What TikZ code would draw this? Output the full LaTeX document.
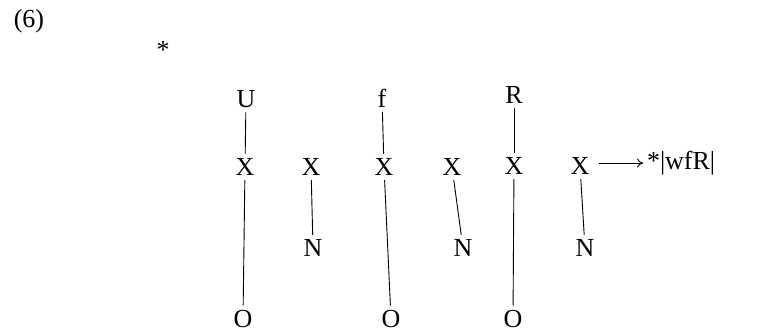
\documentclass[tikz,border=0pt]{standalone}
\usepackage{fontspec}
\setmainfont{Liberation Serif}
\usetikzlibrary{arrows.meta}
\begin{document}
\begin{tikzpicture}[x=1pt,y=-1pt,
  lab/.style={inner sep=0pt,outer sep=5pt,font=\fontsize{26}{30}\selectfont},
  edge/.style={line width=0.9pt,line cap=round}]
\useasboundingbox (0,0) rectangle (757,335);
\node[lab] (num) at (29,21) {(6)};
\node[lab] (star) at (163,50) {*};
% top row
\node[lab] (U) at (246,99) {U};
\node[lab] (f) at (382,98) {f};
\node[lab] (R) at (514,95) {R};
% X row
\node[lab] (X1) at (245,167) {X};
\node[lab] (X2) at (311,167) {X};
\node[lab] (X3) at (384,167) {X};
\node[lab] (X4) at (452,167) {X};
\node[lab] (X5) at (514,166) {X};
\node[lab] (X6) at (580,166) {X};
% N row
\node[lab] (N2) at (313,248) {N};
\node[lab] (N4) at (463,248) {N};
\node[lab] (N6) at (585,248) {N};
% O row
\node[lab] (O1) at (243,319) {O};
\node[lab] (O2) at (391,319) {O};
\node[lab] (O3) at (513,319) {O};
% result
\node[lab,anchor=west,inner xsep=-1pt] (res) at (643,163) {*|wfR|};
% connectors
\draw[edge] (U) -- (X1);
\draw[edge] (f) -- (X3);
\draw[edge] (R) -- (X5);
\draw[edge] (X1) -- (O1);
\draw[edge] (X3) -- (O2);
\draw[edge] (X5) -- (O3);
\draw[edge] (X2) -- (N2);
\draw[edge] (X4) -- (N4);
\draw[edge] (X6) -- (N6);
\draw[edge,-{To[length=6pt,width=9pt]}] (X6.east) ++(5,-3) coordinate (a0) (a0) -- (res.west |- a0);
\end{tikzpicture}
\end{document}
